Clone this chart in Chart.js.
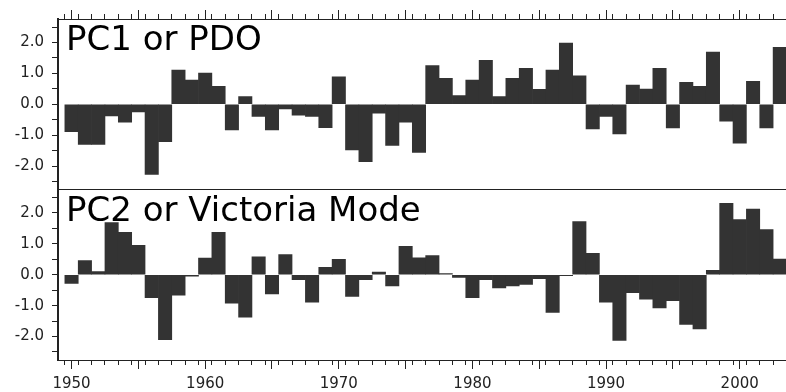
<!DOCTYPE html>
<html>
<head>
<meta charset="utf-8">
<script src="https://cdn.jsdelivr.net/npm/chart.js@4.4.1/dist/chart.umd.min.js"></script>
<style>
  html, body { margin: 0; padding: 0; background: #fff; }
</style>
</head>
<body>
<canvas id="pcs" width="786" height="392"></canvas>
<script>
const years = [
  1950, 1951, 1952, 1953, 1954, 1955, 1956, 1957, 1958, 1959,
  1960, 1961, 1962, 1963, 1964, 1965, 1966, 1967, 1968, 1969,
  1970, 1971, 1972, 1973, 1974, 1975, 1976, 1977, 1978, 1979,
  1980, 1981, 1982, 1983, 1984, 1985, 1986, 1987, 1988, 1989,
  1990, 1991, 1992, 1993, 1994, 1995, 1996, 1997, 1998, 1999,
  2000, 2001, 2002, 2003
];
const pc1 = [
  -0.89, -1.30, -1.30, -0.38, -0.58, -0.25, -2.27, -1.21, 1.11, 0.78,
  1.01, 0.58, -0.83, 0.25, -0.39, -0.83, -0.15, -0.35, -0.39, -0.76,
  0.89, -1.48, -1.86, -0.29, -1.33, -0.58, -1.56, 1.25, 0.84, 0.28,
  0.78, 1.42, 0.25, 0.84, 1.16, 0.48, 1.11, 1.98, 0.92, -0.80,
  -0.39, -0.96, 0.62, 0.49, 1.16, -0.77, 0.71, 0.58, 1.69, -0.55,
  -1.26, 0.74, -0.77, 1.84
];
const pc2 = [
  -0.28, 0.46, 0.10, 1.69, 1.37, 0.95, -0.74, -2.10, -0.66, -0.05,
  0.54, 1.37, -0.92, -1.37, 0.58, -0.62, 0.65, -0.16, -0.89, 0.24,
  0.50, -0.70, -0.16, 0.09, -0.36, 0.92, 0.55, 0.62, 0.04, -0.09,
  -0.74, -0.16, -0.43, -0.36, -0.31, -0.13, -1.22, -0.03, 1.72, 0.69,
  -0.89, -2.13, -0.58, -0.79, -1.07, -0.84, -1.61, -1.75, 0.14, 2.31,
  1.79, 2.13, 1.46, 0.51
];
const panelTitles = ['PC1 or PDO', 'PC2 or Victoria Mode'];
const yearLabels = [1950, 1960, 1970, 1980, 1990, 2000];
const valueLabels = [-2, -1, 0, 1, 2];

const ink = '#222';
const barFill = '#333333';
const tickFont = { family: 'DejaVu Sans', size: 15 };

// keep only whole years / half units
const onStep = step => scale => {
  scale.ticks = scale.ticks.filter(t => Math.abs(t.value / step - Math.round(t.value / step)) < 1e-6);
};

const xAxis = (position, showLabels, height) => ({
  type: 'linear',
  position: position,
  min: 1949.5,
  max: 2002.95,
  afterBuildTicks: onStep(1),
  afterFit: s => { s.height = height; },
  border: { display: true, color: ink, width: 1 },
  grid: { drawOnChartArea: false, tickLength: 5, tickColor: ink, tickWidth: 1 },
  ticks: {
    display: showLabels,
    includeBounds: false,
    stepSize: 1,
    autoSkip: false,
    maxRotation: 0,
    padding: 10,
    color: ink,
    font: tickFont,
    callback: v => yearLabels.includes(v) ? String(v) : ''
  }
});

const yAxis = () => ({
  type: 'linear',
  position: 'left',
  stack: 'panels',
  stackWeight: 1,
  min: -2.76,
  max: 2.76,
  afterBuildTicks: onStep(0.5),
  afterFit: s => { s.width = 58; },
  border: { display: true, color: ink, width: 2 },
  grid: { drawOnChartArea: false, tickLength: 6, tickColor: ink, tickWidth: 1 },
  ticks: {
    includeBounds: false,
    stepSize: 0.5,
    autoSkip: false,
    padding: 8,
    color: ink,
    font: tickFont,
    callback: v => valueLabels.some(l => Math.abs(l - v) < 1e-6) ? Number(v).toFixed(1) : ''
  }
});

// every fifth year gets a longer tick
const majorTicks = {
  id: 'majorTicks',
  afterDraw(chart) {
    const ctx = chart.ctx;
    ctx.save();
    ctx.strokeStyle = ink;
    ctx.lineWidth = 1;
    ['xTop', 'xBottom'].forEach(id => {
      const s = chart.scales[id];
      const up = s.position === 'top';
      const edge = up ? s.bottom : s.top;
      s.ticks.forEach(t => {
        if (t.value % 5 !== 0) return;
        const x = Math.round(s.getPixelForValue(t.value) - 0.5) + 0.5;
        ctx.beginPath();
        ctx.moveTo(x, edge);
        ctx.lineTo(x, up ? edge - 9 : edge + 9);
        ctx.stroke();
      });
    });
    ctx.restore();
  }
};

// divider between the two panels and the panel names
const panelDecor = {
  id: 'panelDecor',
  afterDatasetsDraw(chart) {
    const ctx = chart.ctx;
    const { left, right } = chart.chartArea;
    ctx.save();
    const yDiv = Math.round(chart.scales.yTop.bottom - 0.5) + 0.5;
    ctx.strokeStyle = ink;
    ctx.lineWidth = 1;
    ctx.beginPath();
    ctx.moveTo(left, yDiv);
    ctx.lineTo(right, yDiv);
    ctx.stroke();
    ctx.fillStyle = '#000';
    ctx.font = '34px "DejaVu Sans"';
    ctx.textBaseline = 'alphabetic';
    ['yTop', 'yBottom'].forEach((id, i) => {
      ctx.fillText(panelTitles[i], left + 8, chart.scales[id].top + 31);
    });
    ctx.restore();
  }
};

const barSet = (values, xId, yId) => ({
  data: years.map((yr, i) => ({ x: yr, y: values[i] })),
  xAxisID: xId,
  yAxisID: yId,
  backgroundColor: barFill,
  borderWidth: 0,
  grouped: false,
  barPercentage: 1,
  categoryPercentage: 1
});

new Chart(document.getElementById('pcs'), {
  type: 'bar',
  data: {
    datasets: [
      barSet(pc1, 'xTop', 'yTop'),
      barSet(pc2, 'xBottom', 'yBottom')
    ]
  },
  options: {
    responsive: false,
    animation: false,
    devicePixelRatio: 1,
    layout: { padding: 0 },
    plugins: { legend: { display: false }, tooltip: { enabled: false } },
    scales: {
      xTop: xAxis('top', false, 19),
      xBottom: xAxis('bottom', true, 32),
      yBottom: yAxis(),
      yTop: yAxis()
    }
  },
  plugins: [majorTicks, panelDecor]
});
</script>
</body>
</html>
